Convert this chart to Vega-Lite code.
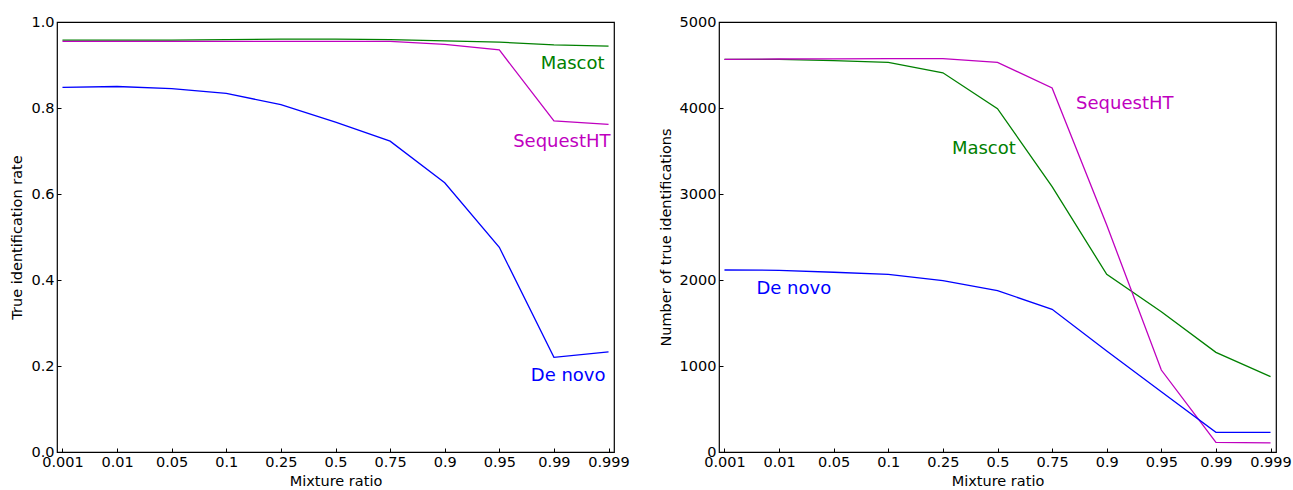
{
  "$schema": "https://vega.github.io/schema/vega-lite/v6.json",
  "padding": {"left": 9, "top": 13, "right": 0, "bottom": 5},
  "spacing": 27,
  "config": {
    "font": "DejaVu Sans",
    "view": {"stroke": "black", "strokeWidth": 1.2},
    "axis": {
      "grid": false,
      "domain": false,
      "tickColor": "black",
      "tickSize": -4,
      "labelPadding": 8,
      "labelFont": "DejaVu Sans",
      "labelFontSize": 14.5,
      "labelColor": "black",
      "titleFont": "DejaVu Sans",
      "titleFontSize": 14.5,
      "titleFontWeight": "normal",
      "titleColor": "black"
    }
  },
  "datasets": {
    "rate": [
      {"method": "Mascot", "ratio": "0.001", "value": 0.958},
      {"method": "Mascot", "ratio": "0.01", "value": 0.958},
      {"method": "Mascot", "ratio": "0.05", "value": 0.958},
      {"method": "Mascot", "ratio": "0.1", "value": 0.959},
      {"method": "Mascot", "ratio": "0.25", "value": 0.960},
      {"method": "Mascot", "ratio": "0.5", "value": 0.960},
      {"method": "Mascot", "ratio": "0.75", "value": 0.959},
      {"method": "Mascot", "ratio": "0.9", "value": 0.956},
      {"method": "Mascot", "ratio": "0.95", "value": 0.953},
      {"method": "Mascot", "ratio": "0.99", "value": 0.947},
      {"method": "Mascot", "ratio": "0.999", "value": 0.944},
      {"method": "SequestHT", "ratio": "0.001", "value": 0.955},
      {"method": "SequestHT", "ratio": "0.01", "value": 0.955},
      {"method": "SequestHT", "ratio": "0.05", "value": 0.955},
      {"method": "SequestHT", "ratio": "0.1", "value": 0.955},
      {"method": "SequestHT", "ratio": "0.25", "value": 0.955},
      {"method": "SequestHT", "ratio": "0.5", "value": 0.955},
      {"method": "SequestHT", "ratio": "0.75", "value": 0.955},
      {"method": "SequestHT", "ratio": "0.9", "value": 0.948},
      {"method": "SequestHT", "ratio": "0.95", "value": 0.935},
      {"method": "SequestHT", "ratio": "0.99", "value": 0.770},
      {"method": "SequestHT", "ratio": "0.999", "value": 0.762},
      {"method": "De novo", "ratio": "0.001", "value": 0.848},
      {"method": "De novo", "ratio": "0.01", "value": 0.850},
      {"method": "De novo", "ratio": "0.05", "value": 0.845},
      {"method": "De novo", "ratio": "0.1", "value": 0.834},
      {"method": "De novo", "ratio": "0.25", "value": 0.808},
      {"method": "De novo", "ratio": "0.5", "value": 0.767},
      {"method": "De novo", "ratio": "0.75", "value": 0.723},
      {"method": "De novo", "ratio": "0.9", "value": 0.626},
      {"method": "De novo", "ratio": "0.95", "value": 0.476},
      {"method": "De novo", "ratio": "0.99", "value": 0.220},
      {"method": "De novo", "ratio": "0.999", "value": 0.233}
    ],
    "count": [
      {"method": "Mascot", "ratio": "0.001", "value": 4566},
      {"method": "Mascot", "ratio": "0.01", "value": 4566},
      {"method": "Mascot", "ratio": "0.05", "value": 4550},
      {"method": "Mascot", "ratio": "0.1", "value": 4531},
      {"method": "Mascot", "ratio": "0.25", "value": 4410},
      {"method": "Mascot", "ratio": "0.5", "value": 3992},
      {"method": "Mascot", "ratio": "0.75", "value": 3085},
      {"method": "Mascot", "ratio": "0.9", "value": 2066},
      {"method": "Mascot", "ratio": "0.95", "value": 1631},
      {"method": "Mascot", "ratio": "0.99", "value": 1159},
      {"method": "Mascot", "ratio": "0.999", "value": 876},
      {"method": "SequestHT", "ratio": "0.001", "value": 4566},
      {"method": "SequestHT", "ratio": "0.01", "value": 4570},
      {"method": "SequestHT", "ratio": "0.05", "value": 4572},
      {"method": "SequestHT", "ratio": "0.1", "value": 4573},
      {"method": "SequestHT", "ratio": "0.25", "value": 4573},
      {"method": "SequestHT", "ratio": "0.5", "value": 4531},
      {"method": "SequestHT", "ratio": "0.75", "value": 4233},
      {"method": "SequestHT", "ratio": "0.9", "value": 2640},
      {"method": "SequestHT", "ratio": "0.95", "value": 953},
      {"method": "SequestHT", "ratio": "0.99", "value": 112},
      {"method": "SequestHT", "ratio": "0.999", "value": 105},
      {"method": "De novo", "ratio": "0.001", "value": 2116},
      {"method": "De novo", "ratio": "0.01", "value": 2113},
      {"method": "De novo", "ratio": "0.05", "value": 2090},
      {"method": "De novo", "ratio": "0.1", "value": 2066},
      {"method": "De novo", "ratio": "0.25", "value": 1992},
      {"method": "De novo", "ratio": "0.5", "value": 1876},
      {"method": "De novo", "ratio": "0.75", "value": 1659},
      {"method": "De novo", "ratio": "0.9", "value": 1174},
      {"method": "De novo", "ratio": "0.95", "value": 701},
      {"method": "De novo", "ratio": "0.99", "value": 229},
      {"method": "De novo", "ratio": "0.999", "value": 229}
    ]
  },
  "hconcat": [
    {
      "width": 557,
      "height": 430,
      "layer": [
        {
          "data": {"name": "rate"},
          "mark": {"type": "line", "strokeWidth": 1.3},
          "encoding": {
            "x": {"field": "ratio", "type": "ordinal", "sort": ["0.001","0.01","0.05","0.1","0.25","0.5","0.75","0.9","0.95","0.99","0.999"], "scale": {"type": "point", "padding": 0.1}, "axis": {"title": "Mixture ratio", "labelAngle": 0, "labelFontSize": 14.5, "labelPadding": 7, "titlePadding": 6}},
            "y": {"field": "value", "type": "quantitative", "scale": {"domain": [0, 1], "nice": false}, "axis": {"title": "True identification rate", "values": [0, 0.2, 0.4, 0.6, 0.8, 1.0], "format": ".1f", "labelFontSize": 14.5, "labelPadding": 7, "titlePadding": 6}},
            "color": {"field": "method", "type": "nominal", "scale": {"domain": ["Mascot", "SequestHT", "De novo"], "range": ["#008000", "#bf00bf", "#0000ff"]}, "legend": null}
          }
        },
        {
          "data": {"values": [{"label": "Mascot", "ratio": "0.999", "value": 0.902}]},
          "mark": {"type": "text", "align": "right", "baseline": "middle", "dx": -4, "fontSize": 18, "color": "#008000"},
          "encoding": {"x": {"field": "ratio", "type": "ordinal"}, "y": {"field": "value", "type": "quantitative"}, "text": {"field": "label"}}
        },
        {
          "data": {"values": [{"label": "SequestHT", "ratio": "0.999", "value": 0.721}]},
          "mark": {"type": "text", "align": "right", "baseline": "middle", "dx": 2, "fontSize": 18, "color": "#bf00bf"},
          "encoding": {"x": {"field": "ratio", "type": "ordinal"}, "y": {"field": "value", "type": "quantitative"}, "text": {"field": "label"}}
        },
        {
          "data": {"values": [{"label": "De novo", "ratio": "0.999", "value": 0.177}]},
          "mark": {"type": "text", "align": "right", "baseline": "middle", "dx": -3, "fontSize": 18, "color": "#0000ff"},
          "encoding": {"x": {"field": "ratio", "type": "ordinal"}, "y": {"field": "value", "type": "quantitative"}, "text": {"field": "label"}}
        }
      ]
    },
    {
      "width": 557,
      "height": 430,
      "layer": [
        {
          "data": {"name": "count"},
          "mark": {"type": "line", "strokeWidth": 1.3},
          "encoding": {
            "x": {"field": "ratio", "type": "ordinal", "sort": ["0.001","0.01","0.05","0.1","0.25","0.5","0.75","0.9","0.95","0.99","0.999"], "scale": {"type": "point", "padding": 0.1}, "axis": {"title": "Mixture ratio", "labelAngle": 0, "labelFontSize": 14.5, "labelPadding": 7, "titlePadding": 6}},
            "y": {"field": "value", "type": "quantitative", "scale": {"domain": [0, 5000], "nice": false}, "axis": {"title": "Number of true identifications", "values": [0, 1000, 2000, 3000, 4000, 5000], "format": "d", "labelFontSize": 14.5, "labelPadding": 7, "titlePadding": 6}},
            "color": {"field": "method", "type": "nominal", "scale": {"domain": ["Mascot", "SequestHT", "De novo"], "range": ["#008000", "#bf00bf", "#0000ff"]}, "legend": null}
          }
        },
        {
          "data": {"values": [{"label": "SequestHT", "ratio": "0.75", "value": 4047}]},
          "mark": {"type": "text", "align": "left", "baseline": "middle", "dx": 24, "fontSize": 18, "color": "#bf00bf"},
          "encoding": {"x": {"field": "ratio", "type": "ordinal"}, "y": {"field": "value", "type": "quantitative"}, "text": {"field": "label"}}
        },
        {
          "data": {"values": [{"label": "Mascot", "ratio": "0.25", "value": 3523}]},
          "mark": {"type": "text", "align": "left", "baseline": "middle", "dx": 9, "fontSize": 18, "color": "#008000"},
          "encoding": {"x": {"field": "ratio", "type": "ordinal"}, "y": {"field": "value", "type": "quantitative"}, "text": {"field": "label"}}
        },
        {
          "data": {"values": [{"label": "De novo", "ratio": "0.001", "value": 1895}]},
          "mark": {"type": "text", "align": "left", "baseline": "middle", "dx": 32, "fontSize": 18, "color": "#0000ff"},
          "encoding": {"x": {"field": "ratio", "type": "ordinal"}, "y": {"field": "value", "type": "quantitative"}, "text": {"field": "label"}}
        }
      ]
    }
  ]
}
